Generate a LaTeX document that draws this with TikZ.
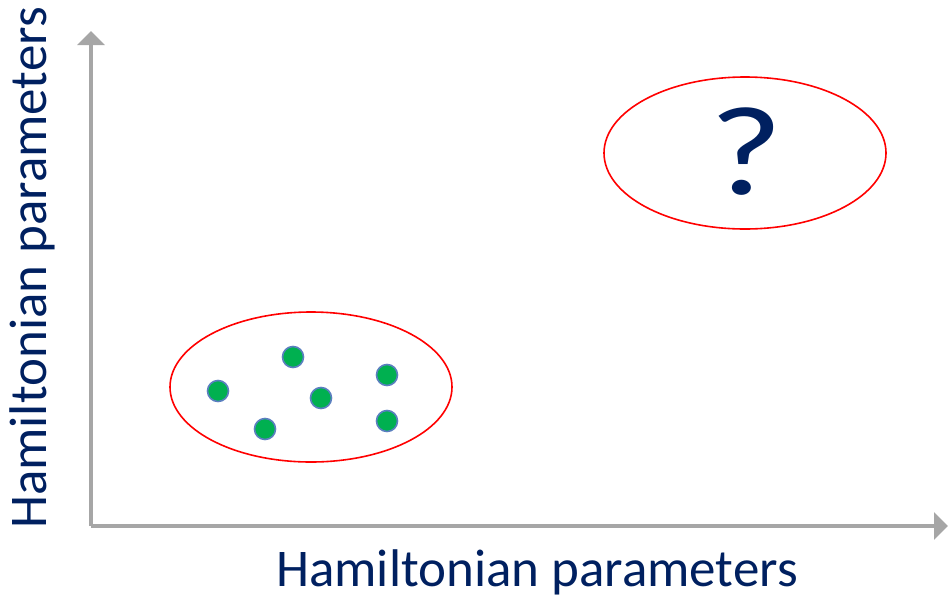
\documentclass[tikz,border=0pt]{standalone}
\usepackage{fontspec}
\setmainfont{Carlito}
\usetikzlibrary{arrows.meta}
\definecolor{axisgray}{HTML}{A6A6A6}
\definecolor{navy}{HTML}{002060}
\definecolor{dotgreen}{HTML}{00B050}
\definecolor{dotblue}{HTML}{5A7FBF}
\definecolor{ringred}{HTML}{FF0000}
\begin{document}
\begin{tikzpicture}[x=1pt,y=-1pt,
  axis/.style={draw=axisgray,line width=4.5pt,-{Triangle[length=14pt,width=27pt]}},
  cluster/.style={draw=ringred,line width=1.6pt},
  sample/.style={circle,fill=dotgreen,draw=dotblue,line width=1.6pt,minimum size=21pt,inner sep=0pt},
  axislabel/.style={text=navy,font=\fontsize{53}{60}\selectfont,inner sep=0pt}]
\useasboundingbox (0,0) rectangle (949,600);
% axes
\coordinate (origin) at (91,526);
\coordinate (xend) at (948,526);
\coordinate (yend) at (91,31);
\draw[axis] (origin) -- (xend);
\draw[axis] (origin) -- (yend);
% known cluster of samples
\draw[cluster] (311,387) ellipse [x radius=141pt,y radius=75pt];
\node[sample] (s1) at (218,391) {};
\node[sample] (s2) at (293,357) {};
\node[sample] (s3) at (265,429) {};
\node[sample] (s4) at (321,398) {};
\node[sample] (s5) at (387,375) {};
\node[sample] (s6) at (387,421) {};
% unknown region
\draw[cluster] (745,153) ellipse [x radius=141pt,y radius=76pt];
\node[text=navy,font=\fontsize{127}{140}\selectfont,inner sep=0pt,xscale=1.25] (q) at (746,152) {?};
% axis labels
\node[axislabel] (xlab) at (537,572) {Hamiltonian parameters};
\node[axislabel,rotate=90] (ylab) at (32,268) {Hamiltonian parameters};
\end{tikzpicture}
\end{document}
